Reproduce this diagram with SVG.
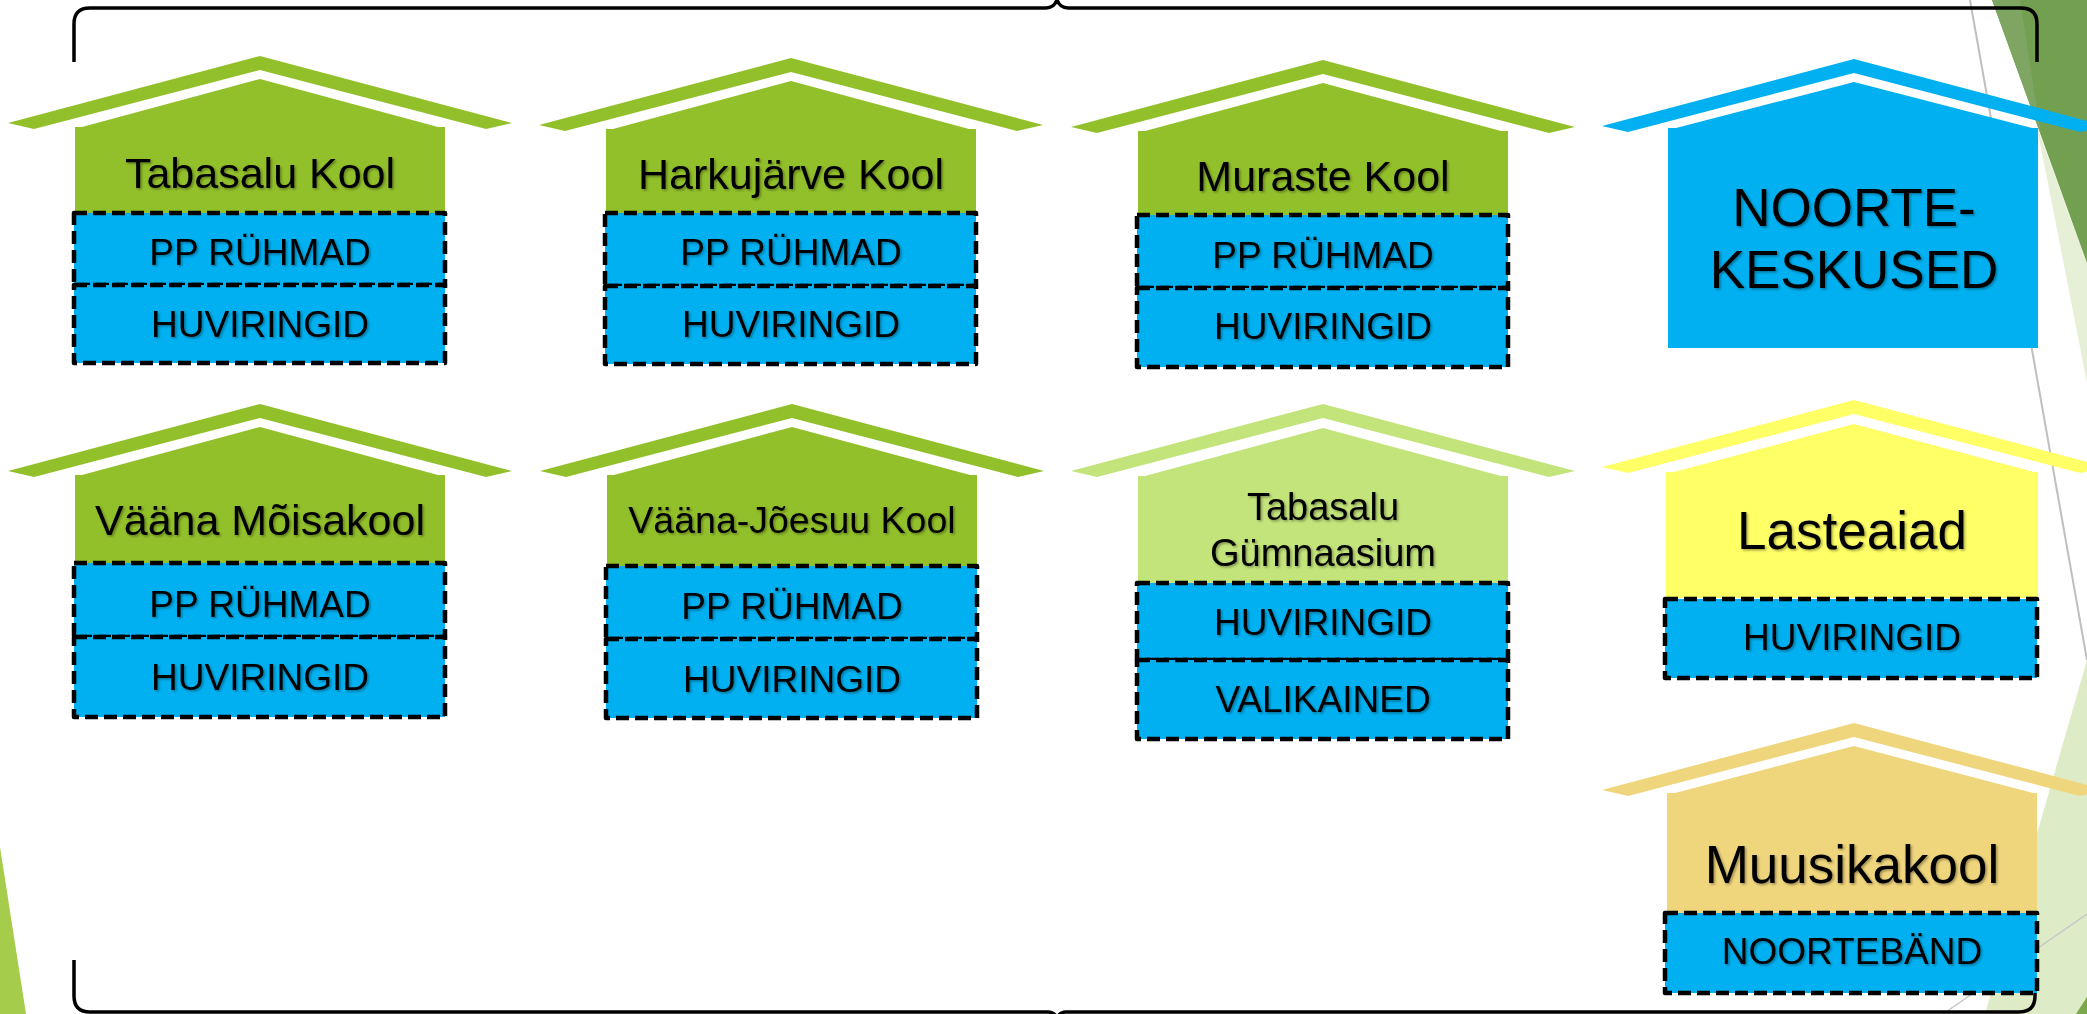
<svg xmlns="http://www.w3.org/2000/svg" width="2087" height="1014" viewBox="0 0 2087 1014">
<defs>
<filter id="sh" x="-10%" y="-20%" width="120%" height="150%">
<feDropShadow dx="1.5" dy="1.5" stdDeviation="1.2" flood-color="#000" flood-opacity="0.35"/>
</filter>
<style>
.t{font-family:"Liberation Sans",Arial,sans-serif;fill:#000;text-anchor:middle;filter:url(#sh)}
.box{fill:#00B0F0;stroke:#000;stroke-width:4.5;stroke-dasharray:13 6;stroke-linejoin:round}
.g{fill:#92C02A}.lg{fill:#C3E47A}.bl{fill:#00B0F0}.ye{fill:#FFFF66}.go{fill:#EFD57C}
.brace{fill:none;stroke:#000;stroke-width:3.5;stroke-linecap:butt;stroke-linejoin:round}
.b36{font-size:37px}.t41{font-size:43px}.big{font-size:53px}
</style>
</defs>
<rect width="2087" height="1014" fill="#fff"/>
<g id="background">
<polygon points="0,847 26,1014 0,1014" fill="#A5CC4B"/>
<polygon points="2037,127 2087,263 2087,383" fill="#E6F0D6"/>
<polygon points="2087,660 1985,1014 2087,1014" fill="#DDEBC6"/>
<line x1="1970" y1="0" x2="2087" y2="660" stroke="#BFBFBF" stroke-width="2"/>
<line x1="2087" y1="914" x2="1943" y2="1014" stroke="#C8C8C8" stroke-width="1.5"/>
<polygon points="1992,0 2087,0 2087,263" fill="#739F50"/>
<polygon points="1992,0 2020,0 2041,135" fill="#7FA562"/>
<polygon points="2076,1014 2087,1014 2087,997" fill="#7AA84A"/>
</g>
<g id="connectors">
<path class="brace" d="M74,62 L74,24 Q74,8 90,8 L1046,8 Q1054,8 1057,0 Q1060,8 1068,8 L2021,8 Q2037,8 2037,24 L2037,62"/>
<path class="brace" d="M74,960 L74,996 Q74,1012 90,1012 L1048,1012 Q1054,1012 1057,1018 Q1060,1012 1066,1012 L2019,1012 Q2035,1012 2035,996 L2035,960"/>
</g>
<g id="house-tabasalu-kool">
<polygon class="g" points="8,123 260,56 512,123 486,129 260,70 34,129"/>
<polygon class="g" points="75,127 82,127 260,79 438,127 445,127 445,215 75,215"/>
<text class="t t41" x="260" y="188">Tabasalu Kool</text>
<rect class="box" x="74" y="213" width="371" height="72"/>
<rect class="box" x="74" y="285" width="371" height="78"/>
<text class="t b36" x="260" y="265">PP RÜHMAD</text>
<text class="t b36" x="260" y="337">HUVIRINGID</text>
</g>
<g id="house-harkujarve-kool">
<polygon class="g" points="539,125 791,58 1043,125 1017,131 791,72 565,131"/>
<polygon class="g" points="606,129 613,129 791,81 969,129 976,129 976,215 606,215"/>
<text class="t t41" x="791" y="189">Harkujärve Kool</text>
<rect class="box" x="605" y="213" width="371" height="73"/>
<rect class="box" x="605" y="286" width="371" height="78"/>
<text class="t b36" x="791" y="265">PP RÜHMAD</text>
<text class="t b36" x="791" y="337">HUVIRINGID</text>
</g>
<g id="house-muraste-kool">
<polygon class="g" points="1071,127 1323,60 1575,127 1549,133 1323,74 1097,133"/>
<polygon class="g" points="1138,131 1145,131 1323,83 1501,131 1508,131 1508,217 1138,217"/>
<text class="t t41" x="1323" y="191">Muraste Kool</text>
<rect class="box" x="1137" y="215" width="371" height="73"/>
<rect class="box" x="1137" y="288" width="371" height="79"/>
<text class="t b36" x="1323" y="268">PP RÜHMAD</text>
<text class="t b36" x="1323" y="339">HUVIRINGID</text>
</g>
<g id="house-noortekeskused">
<polygon class="bl" points="1602,126 1854,59 2106,126 2080,132 1854,73 1628,132"/>
<polygon class="bl" points="1668,128 1676,128 1854,82 2032,128 2038,128 2038,348 1668,348"/>
<text class="t big" x="1854" y="226">NOORTE-</text>
<text class="t big" x="1854" y="288">KESKUSED</text>
</g>
<g id="house-vaana-moisakool">
<polygon class="g" points="8,471 260,404 512,471 486,477 260,418 34,477"/>
<polygon class="g" points="75,475 82,475 260,427 438,475 445,475 445,565 75,565"/>
<text class="t t41" x="260" y="535">Vääna Mõisakool</text>
<rect class="box" x="74" y="563" width="371" height="74"/>
<rect class="box" x="74" y="637" width="371" height="80"/>
<text class="t b36" x="260" y="617">PP RÜHMAD</text>
<text class="t b36" x="260" y="690">HUVIRINGID</text>
</g>
<g id="house-vaana-joesuu-kool">
<polygon class="g" points="540,471 792,404 1044,471 1018,477 792,418 566,477"/>
<polygon class="g" points="607,475 614,475 792,427 970,475 977,475 977,568 607,568"/>
<text class="t" style="font-size:37.5px" x="792" y="533">Vääna-Jõesuu Kool</text>
<rect class="box" x="606" y="566" width="371" height="73"/>
<rect class="box" x="606" y="639" width="371" height="79"/>
<text class="t b36" x="792" y="619">PP RÜHMAD</text>
<text class="t b36" x="792" y="692">HUVIRINGID</text>
</g>
<g id="house-tabasalu-gumnaasium">
<polygon class="lg" points="1071,471 1323,404 1575,471 1549,477 1323,418 1097,477"/>
<polygon class="lg" points="1138,476 1145,476 1323,428 1501,476 1508,476 1508,585 1138,585"/>
<text class="t" style="font-size:38px" x="1323" y="520">Tabasalu</text>
<text class="t" style="font-size:38px" x="1323" y="566">Gümnaasium</text>
<rect class="box" x="1137" y="583" width="371" height="77"/>
<rect class="box" x="1137" y="660" width="371" height="79"/>
<text class="t b36" x="1323" y="635">HUVIRINGID</text>
<text class="t b36" x="1323" y="712">VALIKAINED</text>
</g>
<g id="house-lasteaiad">
<polygon class="ye" points="1602,467 1854,400 2106,467 2080,473 1854,414 1628,473"/>
<polygon class="ye" points="1666,472 1674,472 1854,424 2034,472 2038,472 2038,598 1666,598"/>
<text class="t big" x="1852" y="549">Lasteaiad</text>
<rect class="box" x="1665" y="599" width="372" height="79"/>
<text class="t b36" x="1852" y="650">HUVIRINGID</text>
</g>
<g id="house-muusikakool">
<polygon class="go" points="1602,790 1854,723 2106,790 2080,796 1854,737 1628,796"/>
<polygon class="go" points="1667,793 1675,793 1854,746 2033,793 2037,793 2037,915 1667,915"/>
<text class="t big" x="1852" y="883">Muusikakool</text>
<rect class="box" x="1665" y="913" width="372" height="80"/>
<text class="t b36" x="1852" y="964">NOORTEBÄND</text>
</g>
</svg>
